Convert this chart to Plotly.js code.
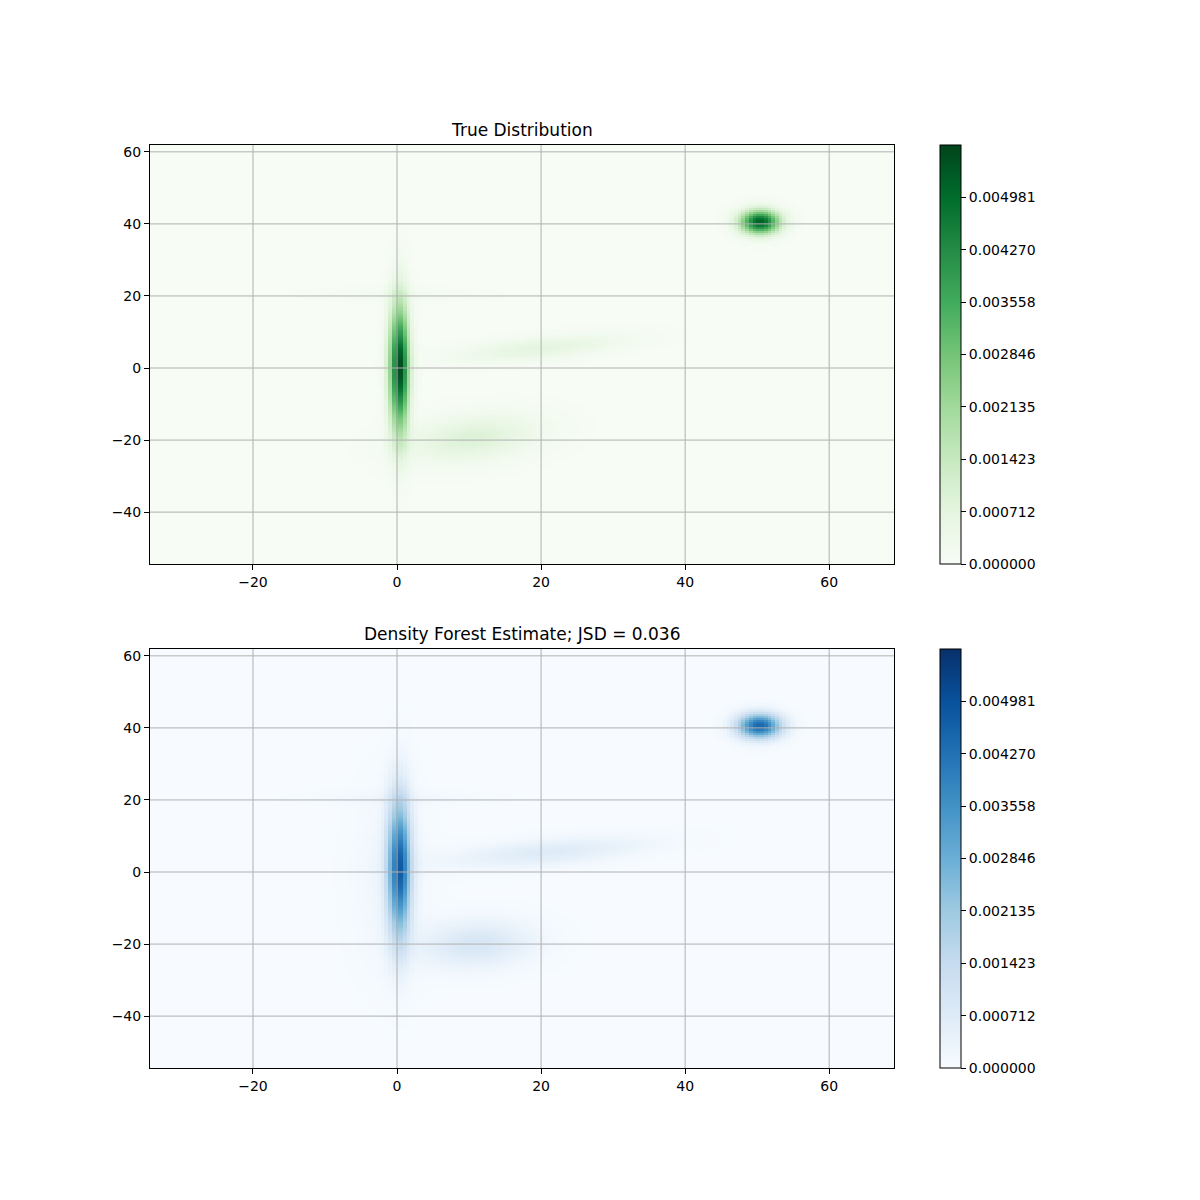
<!DOCTYPE html>
<html>
<head>
<meta charset="utf-8">
<script src="https://cdn.plot.ly/plotly-3.0.1.min.js"></script>
<style>html,body{margin:0;padding:0;background:#fff;}#chart{width:1200px;height:1200px;}</style>
</head>
<body>
<div id="chart"></div>
<script>
// ---- Data ----
// Grid extent of the density image
const gridX = [-34.3, 69.0];
const gridY = [-54.4, 61.9];
const gridN = [200, 200];

// True distribution: Gaussian components (centre, spreads, angle in degrees, peak density)
const trueMeanX = [0.3, 50.4, 20.0, 10.5, 0.0];
const trueMeanY = [0.0, 40.5, 5.5, -19.5, 20.5];
const trueSdU   = [0.95, 1.9, 8.0, 6.5, 7.0];
const trueSdV   = [12.0, 2.3, 2.1, 4.2, 1.2];
const trueAngle = [0, 0, 11, 20, 0];
const truePeak  = [0.00569, 0.0052, 0.0007, 0.0009, 0.00018];

// Density forest estimate components
const estMeanX = [0.3, -1.0, 50.3, 21.0, 11.0, 0.0];
const estMeanY = [1.0, -2.0, 40.5, 5.5, -20.0, 20.5];
const estSdU   = [1.1, 3.5, 2.1, 9.5, 5.5, 8.0];
const estSdV   = [13.0, 17.0, 2.4, 2.5, 4.5, 1.3];
const estAngle = [0, 0, 0, 10, 15, 0];
const estPeak  = [0.0046, 0.00025, 0.0045, 0.0007, 0.0009, 0.00018];

// Colour bar
const cbarMax = 0.0056928;
const cbarTickVals = [0, 0.000712, 0.001423, 0.002135, 0.002846, 0.003558, 0.004270, 0.004981];
const cbarTickText = ['0.000000', '0.000712', '0.001423', '0.002135', '0.002846', '0.003558', '0.004270', '0.004981'];

const titles = ['True Distribution', 'Density Forest Estimate; JSD = 0.036'];
const xTicks = [-20, 0, 20, 40, 60];
const yTicks = [-40, -20, 0, 20, 40, 60];

// ---- Build grids ----
function buildGrid(mx, my, su, sv, ang, pk) {
  const nx = gridN[0], ny = gridN[1];
  const dx = (gridX[1] - gridX[0]) / nx, dy = (gridY[1] - gridY[0]) / ny;
  const xs = [], ys = [], z = [];
  for (let i = 0; i < nx; i++) xs.push(gridX[0] + dx * (i + 0.5));
  for (let j = 0; j < ny; j++) ys.push(gridY[0] + dy * (j + 0.5));
  for (let j = 0; j < ny; j++) {
    const row = [];
    for (let i = 0; i < nx; i++) {
      let v = 0;
      for (let k = 0; k < mx.length; k++) {
        const t = ang[k] * Math.PI / 180;
        const ddx = xs[i] - mx[k], ddy = ys[j] - my[k];
        const u = (Math.cos(t) * ddx + Math.sin(t) * ddy) / su[k];
        const w = (-Math.sin(t) * ddx + Math.cos(t) * ddy) / sv[k];
        v += pk[k] * Math.exp(-0.5 * (u * u + w * w));
      }
      row.push(v);
    }
    z.push(row);
  }
  return {xs, ys, z};
}

const gTrue = buildGrid(trueMeanX, trueMeanY, trueSdU, trueSdV, trueAngle, truePeak);
const gEst = buildGrid(estMeanX, estMeanY, estSdU, estSdV, estAngle, estPeak);

const greens = [[0,'#f7fcf5'],[0.125,'#e5f5e0'],[0.25,'#c7e9c0'],[0.375,'#a1d99b'],[0.5,'#74c476'],[0.625,'#41ab5d'],[0.75,'#238b45'],[0.875,'#006d2c'],[1,'#00441b']];
const blues = [[0,'#f7fbff'],[0.125,'#deebf7'],[0.25,'#c6dbef'],[0.375,'#9ecae1'],[0.5,'#6baed6'],[0.625,'#4292c6'],[0.75,'#2171b5'],[0.875,'#08519c'],[1,'#08306b']];

const W = 1200, H = 1200;
const axL = 150 / W, axR = 894 / W;
const dom1 = [1 - 564 / H, 1 - 145 / H];
const dom2 = [1 - 1068 / H, 1 - 649 / H];
const font = {family: 'DejaVu Sans, sans-serif', size: 14, color: '#000'};

function cbar(dom) {
  return {
    x: 940 / W, xanchor: 'left', xpad: 0,
    y: dom[0], yanchor: 'bottom', ypad: 0,
    len: dom[1] - dom[0], lenmode: 'fraction',
    thickness: 21, thicknessmode: 'pixels',
    outlinecolor: '#000', outlinewidth: 1,
    tickmode: 'array', tickvals: cbarTickVals, ticktext: cbarTickText,
    ticks: 'outside', ticklen: 5, tickcolor: '#000', tickwidth: 1,
    tickfont: font
  };
}

const traces = [
  {type: 'heatmap', x: gTrue.xs, y: gTrue.ys, z: gTrue.z, colorscale: greens, zmin: 0, zmax: cbarMax,
   zsmooth: false, xaxis: 'x', yaxis: 'y', colorbar: cbar(dom1), hoverinfo: 'skip'},
  {type: 'heatmap', x: gEst.xs, y: gEst.ys, z: gEst.z, colorscale: blues, zmin: 0, zmax: cbarMax,
   zsmooth: false, xaxis: 'x2', yaxis: 'y2', colorbar: cbar(dom2), hoverinfo: 'skip'}
];

function xa(anchor) {
  return {domain: [axL, axR], range: gridX, anchor: anchor, tickmode: 'array', tickvals: xTicks,
    showgrid: false, zeroline: false, showline: true, mirror: true, linecolor: '#000', linewidth: 1,
    ticks: 'outside', ticklen: 5, tickcolor: '#000', tickfont: font};
}
function ya(anchor, dom) {
  return {domain: dom, range: gridY, anchor: anchor, tickmode: 'array', tickvals: yTicks,
    showgrid: false, zeroline: false, showline: true, mirror: true, linecolor: '#000', linewidth: 1,
    ticks: 'outside', ticklen: 5, tickcolor: '#000', tickfont: font};
}

const shapes = [];
[['x','y'],['x2','y2']].forEach(([xr, yr]) => {
  xTicks.forEach(v => shapes.push({type: 'line', xref: xr, yref: yr + ' domain', x0: v, x1: v, y0: 0, y1: 1,
    line: {color: '#b0b0b0', width: 1}, layer: 'above'}));
  yTicks.forEach(v => shapes.push({type: 'line', xref: xr + ' domain', yref: yr, x0: 0, x1: 1, y0: v, y1: v,
    line: {color: '#b0b0b0', width: 1}, layer: 'above'}));
});

const layout = {
  width: W, height: H,
  margin: {l: 0, r: 0, t: 0, b: 0},
  paper_bgcolor: '#fff', plot_bgcolor: '#fff',
  showlegend: false,
  font: font,
  xaxis: xa('y'), yaxis: ya('x', dom1),
  xaxis2: xa('y2'), yaxis2: ya('x2', dom2),
  shapes: shapes,
  annotations: [
    {text: titles[0], xref: 'paper', yref: 'paper', x: (axL + axR) / 2, y: dom1[1], xanchor: 'center', yanchor: 'bottom',
     yshift: 3, showarrow: false, font: {family: 'DejaVu Sans, sans-serif', size: 17, color: '#000'}},
    {text: titles[1], xref: 'paper', yref: 'paper', x: (axL + axR) / 2, y: dom2[1], xanchor: 'center', yanchor: 'bottom',
     yshift: 3, showarrow: false, font: {family: 'DejaVu Sans, sans-serif', size: 17, color: '#000'}}
  ]
};

Plotly.newPlot('chart', traces, layout, {staticPlot: true, displayModeBar: false});
</script>
</body>
</html>
